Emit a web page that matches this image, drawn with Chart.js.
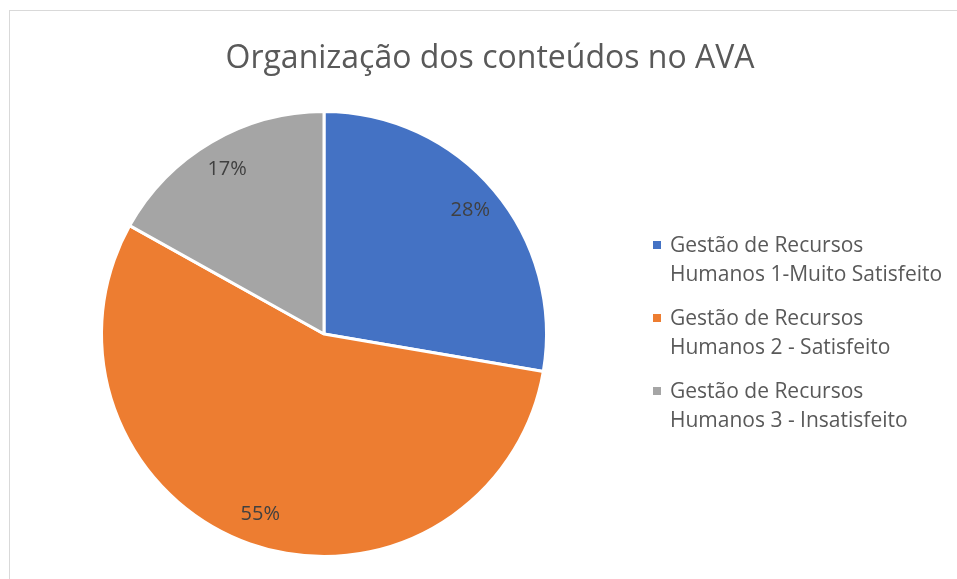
<!DOCTYPE html>
<html>
<head>
<meta charset="utf-8">
<script src="https://cdn.jsdelivr.net/npm/chart.js@4.4.1/dist/chart.umd.min.js"></script>
<style>
  html, body { margin: 0; padding: 0; background: #fff; overflow: hidden; }
  #wrap { position: relative; width: 957px; height: 579px; overflow: hidden; font-family: "Open Sans", Lato, sans-serif; }
  #frame { position: absolute; left: 9px; top: 10px; width: 1100px; height: 1100px; border: 1px solid #d9d9d9; }
  #title { position: absolute; left: 490px; top: 35px; transform: translateX(-50%); white-space: nowrap;
           font-size: 32px; color: #595959; line-height: 42px; }
  #legend { position: absolute; left: 653px; top: 230px; color: #595959; font-size: 21px; line-height: 28.5px; }
  .item { position: relative; padding-left: 17px; margin-bottom: 16px; }
  .box { position: absolute; left: 0; top: 11px; width: 8px; height: 8px; }
  canvas { position: absolute; left: 0; top: 0; }
</style>
</head>
<body>
<div id="wrap">
  <div id="frame"></div>
  <canvas id="pie" width="957" height="579"></canvas>
  <div id="title"></div>
  <div id="legend"></div>
</div>
<script>
const chartTitle = "Organização dos conteúdos no AVA";
const categories = [
    ["Gestão de Recursos", "Humanos 1-Muito Satisfeito"],
    ["Gestão de Recursos", "Humanos 2 - Satisfeito"],
    ["Gestão de Recursos", "Humanos 3 - Insatisfeito"]
];
const shares = [27.7, 55.4, 16.9];
const colors = ['#4472C4', '#ED7D31', '#A5A5A5'];

document.getElementById('title').textContent = chartTitle;

const legend = document.getElementById('legend');
categories.forEach(function (lines, i) {
    const item = document.createElement('div');
    item.className = 'item';
    const box = document.createElement('span');
    box.className = 'box';
    box.style.background = colors[i];
    item.appendChild(box);
    lines.forEach(function (t) {
        const d = document.createElement('div');
        d.textContent = t;
        item.appendChild(d);
    });
    legend.appendChild(item);
});

// percentage labels inside the slices
const sliceLabels = {
    id: 'sliceLabels',
    afterDatasetsDraw(chart) {
        const ctx = chart.ctx;
        const meta = chart.getDatasetMeta(0);
        const data = chart.data.datasets[0].data;
        const total = data.reduce((a, b) => a + b, 0);
        ctx.save();
        ctx.font = '20px "Open Sans", Lato, sans-serif';
        ctx.fillStyle = '#404040';
        ctx.textAlign = 'center';
        ctx.textBaseline = 'middle';
        meta.data.forEach(function (arc, i) {
            const p = arc.getProps(['x', 'y', 'startAngle', 'endAngle', 'outerRadius'], true);
            const mid = (p.startAngle + p.endAngle) / 2;
            const r = p.outerRadius * 0.86;
            const txt = Math.round(data[i] / total * 100) + '%';
            ctx.fillText(txt, p.x + Math.cos(mid) * r, p.y + Math.sin(mid) * r);
        });
        ctx.restore();
    }
};

const pie_chart = new Chart(
    document.getElementById('pie'),
    {
        type: 'pie',
        data: {
            labels: categories.map(l => l.join(' ')),
            datasets: [{
                data: shares,
                backgroundColor: colors,
                borderColor: '#ffffff',
                borderWidth: 3
            }]
        },
        options: {
            responsive: false,
            animation: false,
            layout: { padding: { left: 100, right: 409, top: 110, bottom: 21 } },
            plugins: {
                legend: { display: false },
                tooltip: { enabled: false }
            }
        },
        plugins: [sliceLabels]
    }
);
</script>
</body>
</html>
